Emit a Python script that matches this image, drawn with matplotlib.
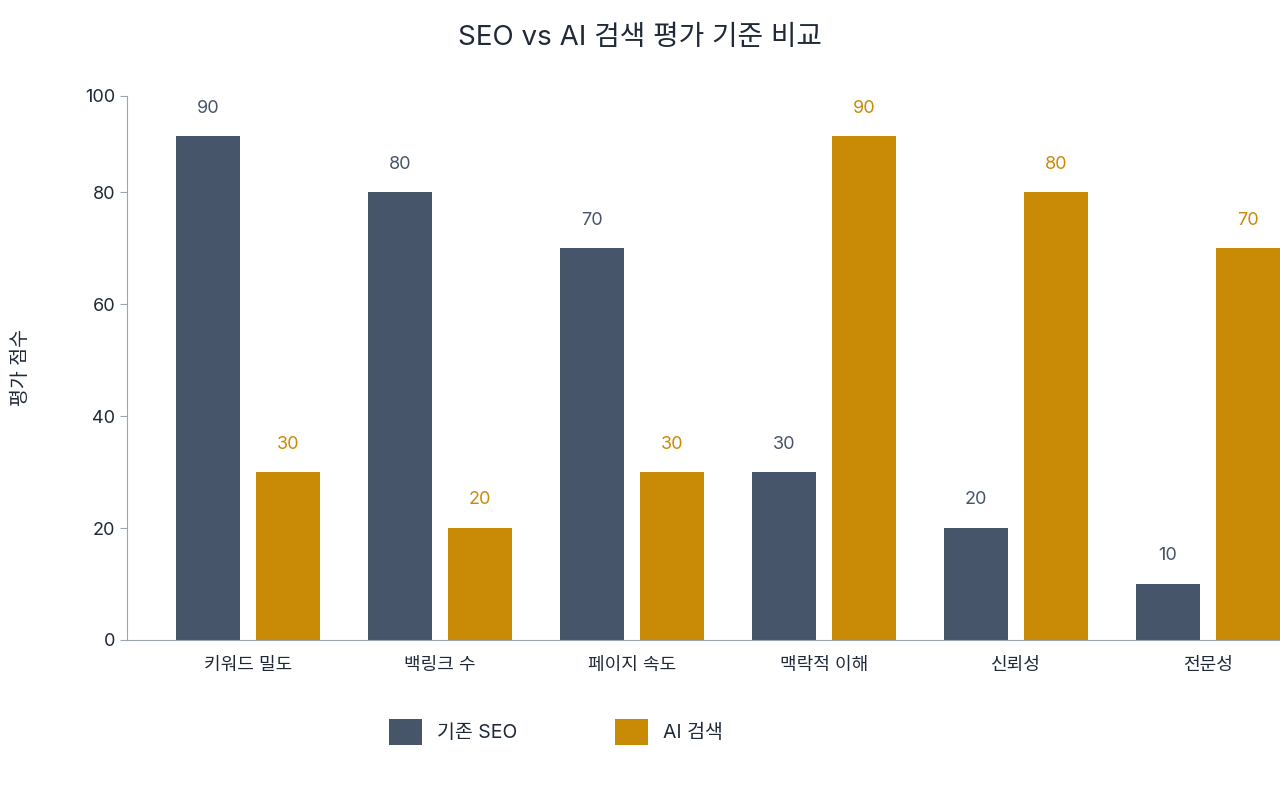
import matplotlib
matplotlib.use("Agg")
import matplotlib.pyplot as plt
import numpy as np

categories = ["키워드 밀도", "백링크 수", "페이지 속도", "맥락적 이해", "신뢰성", "전문성"]
seo = [90, 80, 70, 30, 20, 10]
ai = [30, 20, 30, 90, 80, 70]
yticks = [0, 20, 40, 60, 80, 97.2]
yticklabels = ["0", "20", "40", "60", "80", "100"]

plt.rcParams['font.family'] = ['Inter', 'Noto Sans CJK KR', 'DejaVu Sans']
C1, C2 = "#465569", "#C98A06"
fig = plt.figure(figsize=(12.8, 8), dpi=100)
W, H = 1280, 800
ax = fig.add_axes([127/W, 1-640/H, (1280-127)/W, (640-96)/H])
x = np.arange(len(categories))
w = 64/192
ax.bar(x - 40/192, seo, w, color=C1, label="기존 SEO")
ax.bar(x + 40/192, ai, w, color=C2, label="AI 검색")
for xi, a, b in zip(x, seo, ai):
    ax.text(xi - 40/192, a + 3.5, str(a), ha="center", va="bottom", color=C1, fontsize=13)
    ax.text(xi + 40/192, b + 3.5, str(b), ha="center", va="bottom", color=C2, fontsize=13)
ax.set_xlim(-121/192, (1280-127-121)/192)
ax.set_ylim(0, 97.2)
ax.set_yticks(yticks, yticklabels)
ax.set_xticks(x, categories)
ax.tick_params(axis="both", labelsize=13, colors="#9aa5b4", labelcolor="#1f2937", length=5)
ax.tick_params(axis="x", length=0, pad=12)
for s in ["top", "right"]:
    ax.spines[s].set_visible(False)
for s in ["left", "bottom"]:
    ax.spines[s].set_color("#9aa5b4")
ax.set_ylabel("평가 점수", fontsize=14, color="#1f2937", labelpad=40)
fig.text(640/W, 1-38/H, "SEO vs AI 검색 평가 기준 비교", ha="center", va="center", fontsize=20, color="#1f2937")
fig.legend(loc="center", bbox_to_anchor=(556/W, 1-732/H), ncol=2, frameon=False, fontsize=14,
           handlelength=1.7, handleheight=1.7, columnspacing=5, labelcolor="#1f2937")
fig.savefig("out.png", dpi=100, facecolor="white")
